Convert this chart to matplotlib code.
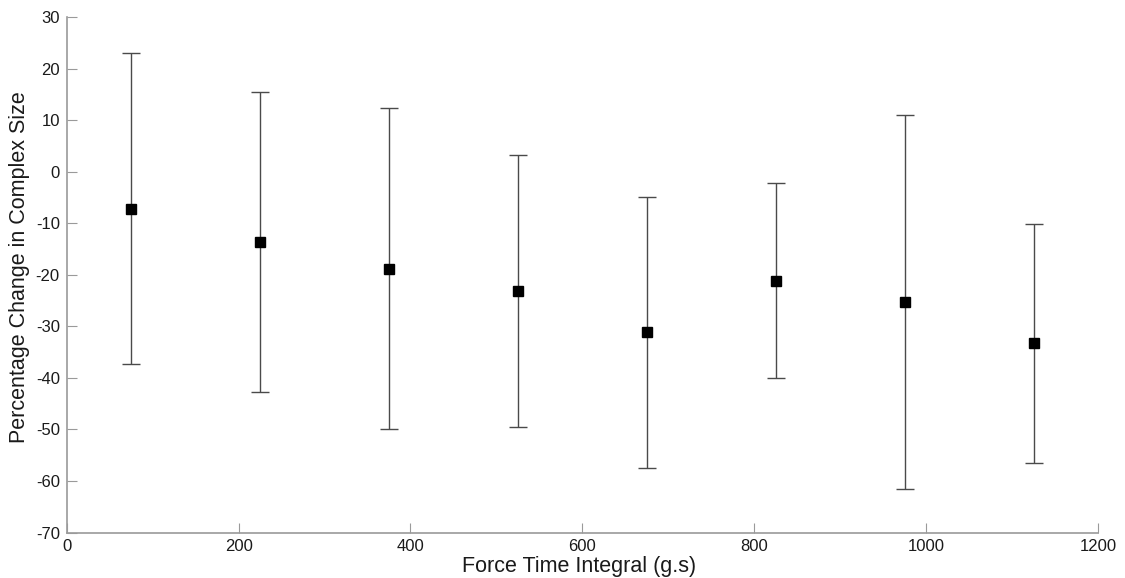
import matplotlib

matplotlib.use("Agg")
import matplotlib.pyplot as plt
import numpy as np

plt.rcParams["font.family"] = ["Liberation Sans", "DejaVu Sans"]
plt.rcParams["axes.unicode_minus"] = False

# data
fti = [75, 225, 375, 525, 675, 825, 975, 1125]
mean_change = [-7.2, -13.7, -18.8, -23.2, -31.1, -21.1, -25.2, -33.2]
upper = [23.0, 15.5, 12.35, 3.2, -4.8, -2.2, 11.0, -10.05]
lower = [-37.3, -42.7, -49.9, -49.6, -57.4, -40.0, -61.5, -56.5]

mean = np.array(mean_change)
yerr = [mean - np.array(lower), np.array(upper) - mean]

AX_GREY = "#9a9a9a"

fig = plt.figure(figsize=(11.25, 5.78), dpi=100)
ax = fig.add_axes([0.0593, 0.0787, 0.9167, 0.8913])

ax.errorbar(fti, mean, yerr=yerr, fmt="s", color="black", markersize=6.5,
            ecolor="#4a4a4a", elinewidth=1.0, capsize=6.5, capthick=1.0)

ax.set_xlim(0, 1200)
ax.set_ylim(-70, 30)
ax.set_xticks(np.arange(0, 1201, 200))
ax.set_yticks(np.arange(-70, 31, 10))

for side in ("top", "right"):
    ax.spines[side].set_visible(False)
for side in ("left", "bottom"):
    ax.spines[side].set_color(AX_GREY)
    ax.spines[side].set_linewidth(1.2)

ax.tick_params(direction="in", length=7, width=0.8, color=AX_GREY,
               labelsize=12, labelcolor="#1a1a1a")
ax.tick_params(axis="x", pad=5)
ax.tick_params(axis="y", pad=5)

ax.set_xlabel("Force Time Integral (g.s)", fontsize=15.5, color="#1a1a1a")
ax.set_ylabel("Percentage Change in Complex Size", fontsize=15.5,
              color="#1a1a1a")
ax.xaxis.set_label_coords(0.497, -0.045)
ax.yaxis.set_label_coords(-0.036, 0.515)

fig.savefig("out.png", dpi=100, facecolor="white")
